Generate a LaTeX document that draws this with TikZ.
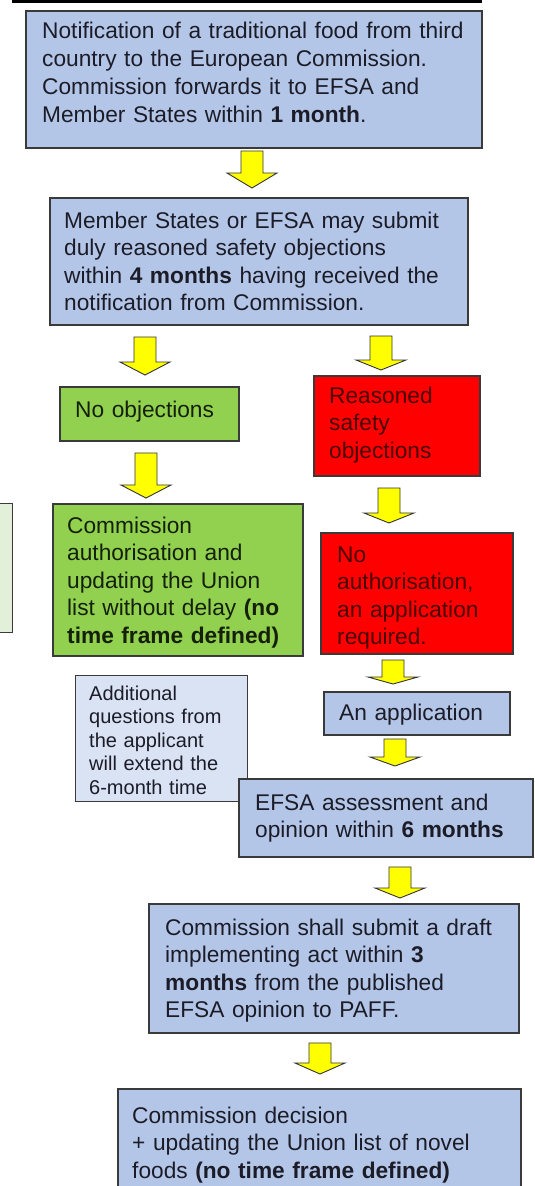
\documentclass[tikz,border=0pt]{standalone}
\usepackage{fontspec}
\setmainfont{Liberation Sans}
\definecolor{boxblue}{HTML}{B4C6E7}
\definecolor{boxlight}{HTML}{DAE3F3}
\definecolor{boxgreen}{HTML}{92D050}
\definecolor{boxpale}{HTML}{E2F0D9}
\definecolor{boxred}{HTML}{FF0000}
\definecolor{redtext}{HTML}{4A0000}
\definecolor{bluetext}{HTML}{1C1C28}
\definecolor{greentext}{HTML}{142008}
\definecolor{edgecol}{HTML}{3A3A3A}
\definecolor{arrowyellow}{HTML}{FFFF00}
\newcommand\yarr[4]{%
  \filldraw[arrowshape] (#1-11,#2) -- (#1+11,#2) -- (#1+11,#3) -- (#1+25,#3)
    -- (#1,#4) -- (#1-25,#3) -- (#1-11,#3) -- cycle;}
\tikzset{
  boxnode/.style={draw=edgecol, line width=1.5pt, inner sep=0pt, anchor=north west, rectangle},
  bluebox/.style={boxnode, fill=boxblue},
  greenbox/.style={boxnode, fill=boxgreen},
  redbox/.style={boxnode, fill=boxred},
  lightbox/.style={boxnode, fill=boxlight, line width=1.2pt},
  txt/.style={inner sep=0pt, anchor=base west, align=left, text width=480pt,
    font=\fontsize{22.7pt}{27.5pt}\selectfont, text=bluetext},
  smalltxt/.style={txt, font=\fontsize{20pt}{23.5pt}\selectfont},
  arrowshape/.style={fill=arrowyellow, draw=black!80, line width=0.9pt, line join=miter}
}
\begin{document}
\begin{tikzpicture}[x=1pt,y=-1pt]
\useasboundingbox (0,0) rectangle (535,1186);
\clip (0,0) rectangle (535,1186);
\fill[white] (0,0) rectangle (535,1186);

% top bar from a box above
\fill[black] (12,-5) rectangle (482,2.5);

% partial box at left edge
\node[boxnode, fill=boxpale, line width=1.2pt, minimum width=20pt, minimum height=129pt] (bleft) at (-8,503) {};

% box 1
\node[bluebox, minimum width=456pt, minimum height=137pt] (b1) at (25,10) {};
\node[txt, font=\fontsize{22.7pt}{28.3pt}\selectfont] (t1) at (42,38) {Notification of a traditional food from third\\country to the European Commission.\\Commission forwards it to EFSA and\\Member States within \textbf{1 month}.};
\yarr{252}{151}{173}{188}

% box 2
\node[bluebox, minimum width=418pt, minimum height=127pt] (b2) at (49,197) {};
\node[txt] (t2) at (64,228) {Member States or EFSA may submit\\duly reasoned safety objections\\within \textbf{4 months} having received the\\notification from Commission.};
\yarr{145}{337}{362}{375}
\yarr{381}{336}{360}{370}

% no objections
\node[greenbox, minimum width=179pt, minimum height=54pt] (bno) at (59,386) {};
\node[txt, text=greentext] (tno) at (75,417) {No objections};

% reasoned safety objections
\node[redbox, minimum width=166pt, minimum height=100pt] (br1) at (313,375) {};
\node[txt, text=redtext] (tr1) at (329,403) {Reasoned\\safety\\objections};

\yarr{146}{453}{485}{498}
\yarr{389}{488}{513}{523}

% commission authorisation
\node[greenbox, minimum width=250pt, minimum height=152pt] (bg2) at (52,503) {};
\node[txt, text=greentext] (tg2) at (67,533) {Commission\\authorisation and\\updating the Union\\list without delay \textbf{(no}\\\textbf{time frame defined)}};

% no authorisation
\node[redbox, minimum width=192pt, minimum height=121pt] (br2) at (320,532) {};
\node[txt, text=redtext] (tr2) at (337,562) {No\\authorisation,\\an application\\required.};

\yarr{393}{660}{677}{684}

% an application
\node[bluebox, minimum width=186pt, minimum height=43pt] (bapp) at (323,691) {};
\node[txt] (tapp) at (339,720) {An application};

\yarr{395}{739}{757}{766}

% additional questions
\node[lightbox, minimum width=172pt, minimum height=126pt] (badd) at (75,675) {};
\node[smalltxt] (tadd) at (89,700) {Additional\\questions from\\the applicant\\will extend the\\6-month time};

% EFSA assessment
\node[bluebox, minimum width=294pt, minimum height=78pt] (befsa) at (238,778) {};
\node[txt] (tefsa) at (255,810) {EFSA assessment and\\opinion within \textbf{6 months}};

\yarr{400}{867}{888}{898}

% commission shall submit
\node[bluebox, minimum width=370pt, minimum height=129pt] (bcs) at (148,903) {};
\node[txt] (tcs) at (165,935) {Commission shall submit a draft\\implementing act within \textbf{3}\\\textbf{months} from the published\\EFSA opinion to PAFF.};

\yarr{320}{1043}{1063}{1074}

% commission decision
\node[bluebox, minimum width=403pt, minimum height=120pt] (bcd) at (117,1088) {};
\node[txt] (tcd) at (132,1123) {Commission decision\\+ updating the Union list of novel\\foods \textbf{(no time frame defined)}};
\end{tikzpicture}
\end{document}
